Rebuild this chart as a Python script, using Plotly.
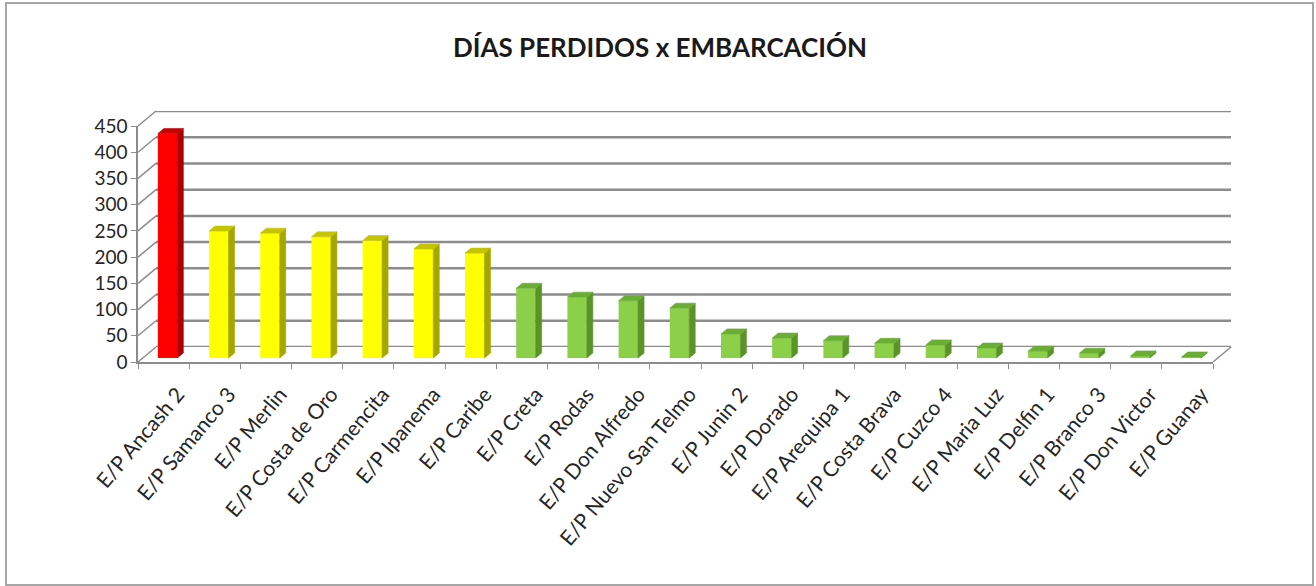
import plotly.graph_objects as go

# ---- datos -------------------------------------------------------------
embarcaciones = [
    "E/P Ancash 2", "E/P Samanco 3", "E/P Merlin", "E/P Costa de Oro",
    "E/P Carmencita", "E/P Ipanema", "E/P Caribe", "E/P Creta", "E/P Rodas",
    "E/P Don Alfredo", "E/P Nuevo San Telmo", "E/P Junin 2", "E/P Dorado",
    "E/P Arequipa 1", "E/P Costa Brava", "E/P Cuzco 4", "E/P Maria Luz",
    "E/P Delfin 1", "E/P Branco 3", "E/P Don Victor", "E/P Guanay",
]
dias_perdidos = [428, 242, 238, 231, 224, 208, 200, 133, 116, 109, 95,
                 46, 38, 33, 28, 25, 19, 13, 9, 4, 2]
nivel = ["alto"] + ["medio"] * 6 + ["bajo"] * 14
y_ticks = [0, 50, 100, 150, 200, 250, 300, 350, 400, 450]

# colores: (cara frontal, cara lateral, cara superior)
PALETA = {
    "alto": ("#FF0000", "#A80000", "#C80000"),
    "medio": ("#FFFF00", "#A6A600", "#C4C400"),
    "bajo": ("#8CD04A", "#5A9428", "#6AAE33"),
}

# ---- geometría (px) ----------------------------------------------------
W, H = 1316, 586
Y_MAX = 450
FRONT_X = (138, 1213)      # borde frontal del suelo
FRONT_Y = (362, 126)       # valor 0 y valor 450 en el plano frontal
DEPTH = (18, -15)          # desplazamiento hacia la pared del fondo
BAR_SHIFT = (4, -4)        # las columnas quedan algo detrás del plano frontal
BAR_DEPTH = (6, -5)        # profundidad visible de cada columna
BAR_WIDTH = 0.38
GRID = "#8c8c8c"
FONT = "Lato"

n = len(embarcaciones)
cat_px = (FRONT_X[1] - FRONT_X[0]) / n
val_px = (FRONT_Y[0] - FRONT_Y[1]) / Y_MAX


def dom_x(x0, x1):
    return [x0 / W, x1 / W]


def dom_y(y_bottom, y_top):
    return [1 - y_bottom / H, 1 - y_top / H]


def frame(dx, dy):
    return (dom_x(FRONT_X[0] + dx, FRONT_X[1] + dx),
            dom_y(FRONT_Y[0] + dy, FRONT_Y[1] + dy))


back_dx, back_dy = frame(*DEPTH)
front_dx, front_dy = frame(0, 0)
bars_dx, bars_dy = frame(*BAR_SHIFT)

fig = go.Figure()

# ejes frontales con las categorías
fig.add_trace(go.Scatter(
    x=embarcaciones, y=[0] * n, mode="markers",
    marker=dict(opacity=0), hoverinfo="skip", showlegend=False,
    xaxis="x2", yaxis="y2",
))

# caras laterales y superiores de las columnas
ddx = BAR_DEPTH[0] / cat_px
ddy = -BAR_DEPTH[1] / val_px
for key in PALETA:
    front_c, side_c, top_c = PALETA[key]
    sx, sy, tx, ty = [], [], [], []
    for i, (v, lv) in enumerate(zip(dias_perdidos, nivel)):
        if lv != key:
            continue
        xl, xr = i - BAR_WIDTH / 2, i + BAR_WIDTH / 2
        sx += [xr, xr + ddx, xr + ddx, xr, xr, None]
        sy += [0, ddy, v + ddy, v, 0, None]
        tx += [xl, xl + ddx, xr + ddx, xr, xl, None]
        ty += [v, v + ddy, v + ddy, v, v, None]
    for xs, ys, col in ((sx, sy, side_c), (tx, ty, top_c)):
        fig.add_trace(go.Scatter(
            x=xs, y=ys, mode="lines", fill="toself", fillcolor=col,
            line=dict(width=0.6, color=col), hoverinfo="skip",
            showlegend=False, xaxis="x3", yaxis="y3",
        ))

# cara frontal de las columnas
fig.add_trace(go.Bar(
    x=list(range(n)), y=dias_perdidos, width=BAR_WIDTH,
    marker=dict(color=[PALETA[l][0] for l in nivel],
                line=dict(width=0)),
    hovertext=embarcaciones, hoverinfo="text+y",
    showlegend=False, xaxis="x3", yaxis="y3",
))

shapes = []
# líneas de la pared del fondo
for v in y_ticks:
    shapes.append(dict(type="line", xref="x domain", yref="y",
                       x0=0, x1=1, y0=v, y1=v, layer="below",
                       line=dict(color=GRID, width=2.5)))
# pared lateral izquierda: diagonales desde cada marca
for v in y_ticks:
    yf = FRONT_Y[0] - v * val_px
    shapes.append(dict(type="line", xref="paper", yref="paper",
                       x0=FRONT_X[0] / W, y0=1 - yf / H,
                       x1=(FRONT_X[0] + DEPTH[0]) / W,
                       y1=1 - (yf + DEPTH[1]) / H,
                       layer="below", line=dict(color=GRID, width=1.5)))
# esquina derecha del suelo
shapes.append(dict(type="line", xref="paper", yref="paper",
                   x0=FRONT_X[1] / W, y0=1 - FRONT_Y[0] / H,
                   x1=(FRONT_X[1] + DEPTH[0]) / W,
                   y1=1 - (FRONT_Y[0] + DEPTH[1]) / H,
                   layer="below", line=dict(color=GRID, width=1.5)))
# marco del gráfico
shapes.append(dict(type="rect", xref="paper", yref="paper",
                   x0=6 / W, x1=1313 / W, y0=1 - 585 / H, y1=1 - 3 / H,
                   line=dict(color="#a6a6a6", width=2)))

hidden = dict(showgrid=False, zeroline=False, showticklabels=False,
              showline=False, ticks="", automargin=False)

fig.update_layout(
    width=W, height=H,
    margin=dict(l=0, r=0, t=0, b=0, autoexpand=False),
    paper_bgcolor="white", plot_bgcolor="rgba(0,0,0,0)",
    barmode="overlay",
    title=dict(text="<b>DÍAS PERDIDOS x EMBARCACIÓN</b>",
               x=660 / W, y=1 - 48 / H, xanchor="center", yanchor="middle",
               font=dict(family=FONT, size=26, color="#1a1a1a")),
    # pared del fondo
    xaxis=dict(domain=back_dx, range=[-0.5, n - 0.5], **hidden),
    yaxis=dict(domain=back_dy, range=[0, Y_MAX], **hidden),
    # plano frontal con ejes y rótulos
    xaxis2=dict(domain=front_dx, type="category",
                categoryarray=embarcaciones, categoryorder="array",
                range=[-0.5, n - 0.5], anchor="y2", automargin=False,
                showline=True, linecolor=GRID, linewidth=1.5,
                ticks="outside", tickson="boundaries", ticklen=5,
                tickcolor=GRID, tickangle=-50, showgrid=False,
                zeroline=False, ticklabelshift=14, ticklabelstandoff=10,
                tickfont=dict(family=FONT, size=21, color="#262626")),
    yaxis2=dict(domain=front_dy, range=[0, Y_MAX], anchor="x2",
                automargin=False,
                tickvals=y_ticks, showline=True, linecolor=GRID,
                linewidth=1.5, ticks="outside", ticklen=5, tickcolor=GRID,
                showgrid=False, zeroline=False,
                tickfont=dict(family=FONT, size=19, color="#262626")),
    # columnas
    xaxis3=dict(domain=bars_dx, range=[-0.5, n - 0.5], anchor="y3", **hidden),
    yaxis3=dict(domain=bars_dy, range=[0, Y_MAX], anchor="x3", **hidden),
    shapes=shapes,
)

fig.write_html("out.html")
